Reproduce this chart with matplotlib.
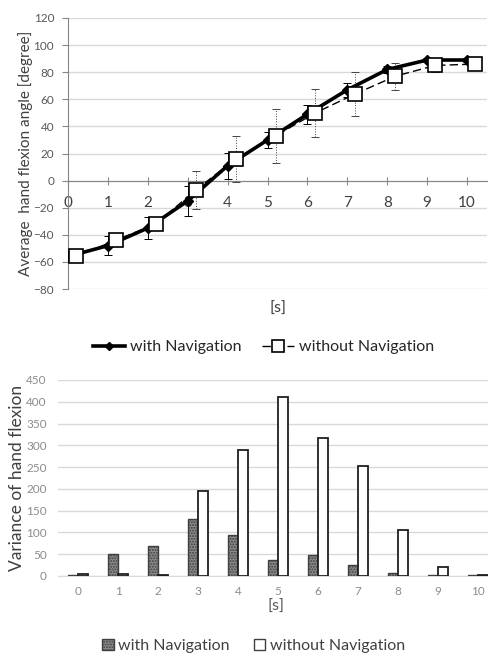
import matplotlib.pyplot as plt
from matplotlib.lines import Line2D
from matplotlib.patches import Patch
import numpy as np

plt.rcParams["font.family"] = ["Lato", "DejaVu Sans"]
plt.rcParams["hatch.color"] = "#3a3a3a"
plt.rcParams["hatch.linewidth"] = 1.0

# time [s]
seconds = [0, 1, 2, 3, 4, 5, 6, 7, 8, 9, 10]

# average hand flexion angle [degree]
with_nav = [-56, -48, -35, -15, 11, 30, 49, 67, 82, 89, 89]
without_nav = [-56, -44, -32, -7, 16, 33, 50, 64, 77, 85, 86]
with_nav_err = [1.5, 7, 8, 11, 9.5, 6, 7, 5, 2.5, 1.5, 1.5]
without_nav_err = [2, 2, 1.5, 14, 17, 20, 17.5, 16, 10, 4.5, 2]

# variance of hand flexion
with_nav_var = [2, 50, 70, 130, 93, 36, 48, 25, 7, 2, 2]
without_nav_var = [5, 5, 2, 196, 290, 410, 316, 253, 105, 20, 3]

fig = plt.figure(figsize=(4.88, 6.56), dpi=100)

# --- top: average angle ---
ax1 = fig.add_axes([68 / 488, 1 - 289 / 656, 419 / 488, 271 / 656])
x = np.array(seconds, dtype=float)
xs = x + 0.2
ax1.errorbar(x, with_nav, yerr=with_nav_err, fmt="none", ecolor="black",
             elinewidth=0.7, capsize=3, capthick=0.7, zorder=3)
eb = ax1.errorbar(xs, without_nav, yerr=without_nav_err, fmt="none",
                  ecolor="#444444", elinewidth=0.7, capsize=3, capthick=0.7, zorder=3)
eb[2][0].set_linestyle(":")
ax1.plot(xs, without_nav, color="black", lw=1.0, ls=(0, (6, 3)), marker="s",
         ms=10, mfc="white", mec="black", mew=1.2, zorder=5)
ax1.plot(x, with_nav, color="black", lw=2.6, marker="D", ms=5, zorder=4)

ax1.set_xlim(0, 10.5)
ax1.set_ylim(-80, 120)
ax1.set_yticks(range(-80, 121, 20))
ax1.set_xticks(seconds)
ax1.grid(axis="y", color="#d9d9d9", lw=1.0)
ax1.set_axisbelow(True)
for s in ["top", "right"]:
    ax1.spines[s].set_visible(False)
ax1.spines["bottom"].set_position(("data", 0))
ax1.spines["bottom"].set_color("#868686")
ax1.spines["left"].set_color("#868686")
ax1.tick_params(axis="y", length=4, color="#868686", labelsize=8.5,
                labelcolor="#595959", pad=6)
ax1.tick_params(axis="x", direction="inout", length=6, color="#868686",
                labelsize=11, labelcolor="#404040", pad=8)
ax1.set_ylabel("Average  hand flexion angle [degree]", fontsize=11,
               color="#404040", labelpad=0)
fig.text(278 / 488, 1 - 309 / 656, "[s]", fontsize=11.5, color="#404040",
         ha="center", va="center")

handles1 = [
    Line2D([], [], color="black", lw=2.6, marker="D", ms=4),
    Line2D([], [], color="black", lw=1.0, ls=(0, (6, 3)), marker="s", ms=9,
           mfc="white", mec="black", mew=1.2),
]
fig.legend(handles1, ["with Navigation", "without Navigation"], loc="center left",
           bbox_to_anchor=(79 / 488, 1 - 347 / 656), ncol=2, frameon=False,
           fontsize=11.5, handlelength=2.0, handletextpad=0.3, columnspacing=1.3,
           labelcolor="#262626")

# --- bottom: variance ---
ax2 = fig.add_axes([58 / 488, 1 - 576 / 656, 440 / 488, 196 / 656])
w = 0.25
ax2.bar(x - w / 2, with_nav_var, width=w, color="#8c8c8c", hatch="......",
        edgecolor="#404040", lw=1.0, zorder=3)
ax2.bar(x + w / 2, without_nav_var, width=w, color="white",
        edgecolor="#202020", lw=1.3, zorder=3)
ax2.set_xlim(-0.5, 10.5)
ax2.set_ylim(0, 450)
ax2.set_yticks(range(0, 451, 50))
ax2.set_xticks(seconds)
ax2.grid(axis="y", color="#d9d9d9", lw=1.0)
ax2.set_axisbelow(True)
for s in ["top", "right", "left"]:
    ax2.spines[s].set_visible(False)
ax2.spines["bottom"].set_color("#d9d9d9")
ax2.tick_params(axis="both", length=0, labelsize=8.5, labelcolor="#8c8c8c")
ax2.tick_params(axis="y", pad=8)
ax2.tick_params(axis="x", pad=7)
ax2.set_ylabel("Variance of hand flexion", fontsize=12.5, color="#404040",
               labelpad=1)
fig.text(276 / 488, 1 - 607 / 656, "[s]", fontsize=11.5, color="#595959",
         ha="center", va="center")

handles2 = [
    Patch(facecolor="#8c8c8c", hatch="......", edgecolor="#404040"),
    Patch(facecolor="white", edgecolor="#404040"),
]
fig.legend(handles2, ["with Navigation", "without Navigation"], loc="center left",
           bbox_to_anchor=(88 / 488, 1 - 646 / 656), ncol=2, frameon=False,
           fontsize=11.5, handlelength=0.7, handleheight=0.7, handletextpad=0.3,
           columnspacing=1.5, labelcolor="#404040")

fig.savefig("out.png", dpi=100)
